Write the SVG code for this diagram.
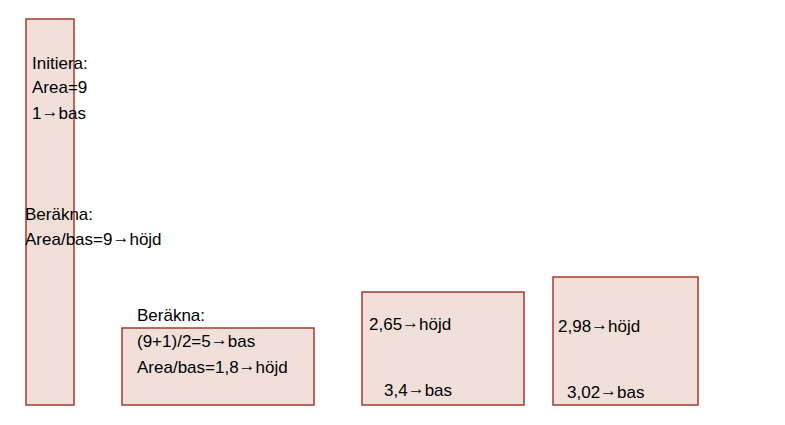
<svg xmlns="http://www.w3.org/2000/svg" width="785" height="425" viewBox="0 0 785 425">
<style>
.box{fill:#f1e0d9;stroke:#a43a2e;stroke-width:1.5}
text{font-family:"Liberation Sans",Arial,sans-serif;font-size:17px;fill:#000}
.ar{baseline-shift:2.5px}
</style>
<rect width="785" height="425" fill="#fff"/>
<g id="connectors"/>
<g id="n1"><rect class="box" x="26" y="19" width="48" height="386"/></g>
<g id="n2"><rect class="box" x="122" y="328" width="192" height="77"/></g>
<g id="n3"><rect class="box" x="362" y="292" width="162" height="113"/></g>
<g id="n4"><rect class="box" x="553" y="277" width="145" height="128"/></g>
<g id="labels">
<text x="32" y="69">Initiera:</text>
<text x="32" y="93">Area=9</text>
<text x="32" y="119">1<tspan class="ar">→</tspan>bas</text>
<text x="25" y="220">Beräkna:</text>
<text x="25" y="245">Area/bas=9<tspan class="ar">→</tspan>höjd</text>
<text x="137" y="321">Beräkna:</text>
<text x="137" y="347">(9+1)/2=5<tspan class="ar">→</tspan>bas</text>
<text x="137" y="373">Area/bas=1,8<tspan class="ar">→</tspan>höjd</text>
<text x="369" y="330">2,65<tspan class="ar">→</tspan>höjd</text>
<text x="384" y="396">3,4<tspan class="ar">→</tspan>bas</text>
<text x="558" y="332">2,98<tspan class="ar">→</tspan>höjd</text>
<text x="567" y="398">3,02<tspan class="ar">→</tspan>bas</text>
</g>
</svg>
